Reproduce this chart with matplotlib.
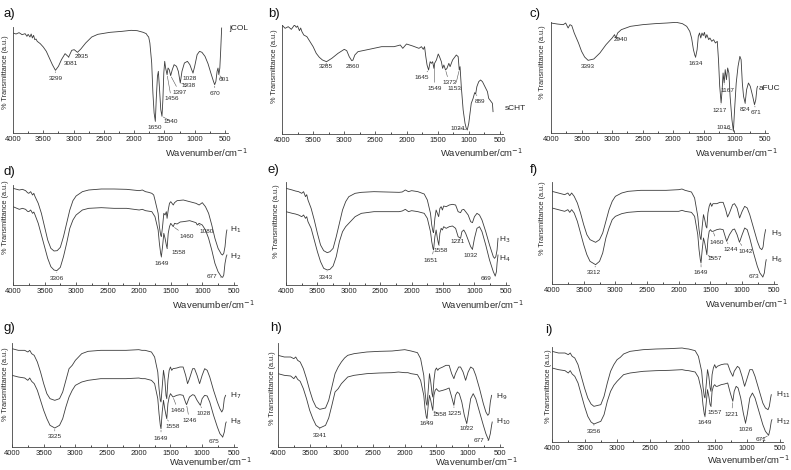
import numpy as np
import matplotlib
matplotlib.use("Agg")
import matplotlib.pyplot as plt

plt.rcParams['font.family'] = ['Liberation Sans', 'DejaVu Sans']

FW, FH = 791, 470

# ---------------- data: (wavenumber cm-1, depth reading below panel top) ----------------
# readings are converted to transmittance (a.u.) with T = base - reading
jcol = [(4000,100),(3950,103),(3900,99),(3850,105),(3800,102),(3770,110),(3750,104),(3720,112),(3700,103),
        (3680,115),(3660,107),(3640,120),(3620,118),(3600,125),(3550,132),(3500,142),(3450,155),(3400,175),
        (3350,195),(3299,212),(3250,200),(3200,180),(3140,162),(3081,172),(3030,152),(2990,150),(2935,158),
        (2880,148),(2800,130),(2700,112),(2600,104),(2400,98),(2200,95),(2050,92),(1950,93),(1850,98),
        (1800,102),(1780,108),(1760,112),(1740,130),(1710,190),(1690,280),(1670,340),(1650,365),(1635,300),
        (1615,230),(1600,215),(1580,270),(1560,330),(1540,350),(1525,300),(1510,220),(1495,185),(1480,205),
        (1456,225),(1440,205),(1420,210),(1397,228),(1370,210),(1340,195),(1300,200),(1270,215),(1238,250),
        (1210,215),(1170,190),(1120,185),(1080,195),(1050,210),(1028,220),(1000,200),(960,165),(920,155),
        (880,158),(830,170),(780,192),(730,222),(690,245),(670,255),(650,245),(630,215),(615,205),(601,225),
        (585,205),(570,150),(555,85)]
scht = [(4000,75),(3950,85),(3900,80),(3850,88),(3800,75),(3770,82),(3750,78),(3720,92),(3700,84),
        (3680,95),(3650,105),(3600,110),(3550,125),(3500,140),(3450,160),(3400,172),(3350,180),(3285,185),
        (3200,175),(3100,160),(3000,148),(2960,152),(2920,170),(2880,182),(2860,180),(2830,165),(2780,155),
        (2600,148),(2400,140),(2200,140),(2100,135),(2060,145),(2000,132),(1900,138),(1800,145),(1760,140),
        (1730,148),(1710,140),(1690,170),(1670,195),(1645,210),(1620,185),(1600,190),(1580,185),(1560,205),
        (1549,190),(1520,180),(1490,162),(1470,170),(1440,185),(1420,205),(1400,195),(1373,210),(1350,205),
        (1320,190),(1300,200),(1260,180),(1200,165),(1170,170),(1153,210),(1140,200),(1120,260),(1090,330),
        (1060,370),(1040,385),(1024,390),(1000,370),(980,340),(960,310),(930,295),(905,278),(889,282),
        (870,260),(840,245),(810,240),(780,245),(740,260),(700,275),(680,295),(660,300),(640,305),(620,310),
        (610,335)]
afuc = [(4000,70),(3900,73),(3800,75),(3760,70),(3720,85),(3690,75),(3660,78),(3620,100),(3550,130),
        (3500,155),(3450,172),(3393,182),(3300,178),(3200,160),(3100,135),(3000,115),(2960,105),(2940,115),
        (2910,100),(2850,90),(2700,80),(2500,75),(2300,72),(2100,70),(1950,68),(1850,72),(1780,80),
        (1730,95),(1700,115),(1670,150),(1645,168),(1634,172),(1610,150),(1590,110),(1570,100),(1550,115),
        (1530,100),(1510,108),(1490,98),(1470,115),(1450,105),(1420,120),(1400,115),(1370,125),(1340,120),
        (1310,130),(1280,125),(1260,180),(1240,260),(1217,310),(1200,270),(1185,220),(1167,250),(1150,210),
        (1130,240),(1110,205),(1090,220),(1070,290),(1040,360),(1016,395),(1000,340),(970,250),(940,200),
        (910,170),(890,180),(870,250),(850,290),(824,310),(800,270),(770,250),(740,260),(700,290),(671,315),
        (650,300),(630,265),(620,260)]
h1 = [(4000,85),(3900,90),(3850,88),(3800,92),(3770,98),(3750,100),(3720,95),(3690,105),(3670,100),(3650,110),
      (3600,130),(3550,160),(3500,200),(3450,240),(3400,265),(3350,273),(3300,272),(3250,262),(3200,230),
      (3150,190),(3100,150),(3050,122),(3000,108),(2900,95),(2800,90),(2600,87),(2400,87),(2200,88),
      (2000,92),(1950,90),(1900,95),(1850,97),(1800,100),(1770,105),(1750,120),(1700,160),(1680,200),
      (1660,225),(1649,230),(1630,200),(1610,160),(1590,165),(1570,155),(1558,175),(1540,150),(1520,130),
      (1500,125),(1480,130),(1460,135),(1440,128),(1400,122),(1300,120),(1200,125),(1100,130),(1050,135),
      (1000,128),(950,140),(900,160),(850,195),(800,235),(750,265),(700,282),(680,285),(660,280),(640,260),
      (620,220),(610,210)]
h2 = [(4000,140),(3900,148),(3850,145),(3800,148),(3770,154),(3750,155),(3720,150),(3690,160),(3670,156),
      (3650,165),(3600,190),(3550,225),(3500,260),(3450,295),(3400,320),(3350,330),(3306,332),(3250,322),
      (3200,290),(3150,250),(3100,205),(3050,180),(3000,165),(2900,150),(2800,145),(2600,143),(2400,145),
      (2200,145),(2000,150),(1950,148),(1900,152),(1800,155),(1750,170),(1700,210),(1680,250),(1660,280),
      (1649,290),(1630,260),(1610,220),(1590,235),(1570,255),(1558,265),(1540,220),(1520,200),(1500,190),
      (1480,195),(1460,200),(1440,190),(1400,192),(1350,186),(1300,185),(1200,182),(1100,188),(1080,195),
      (1050,190),(1000,195),(950,210),(900,235),(850,270),(800,310),(750,335),(700,350),(677,352),(660,345),
      (640,310),(620,290),(610,285)]
h3 = [(4000,85),(3900,90),(3850,93),(3800,95),(3750,100),(3720,95),(3690,110),(3670,104),(3650,120),
      (3600,145),(3550,180),(3500,220),(3450,255),(3400,272),(3343,278),(3300,275),(3250,265),(3200,230),
      (3150,190),(3100,150),(3050,125),(3000,110),(2900,100),(2800,97),(2600,95),(2400,96),(2200,97),
      (2150,96),(2100,90),(2050,95),(2000,92),(1900,95),(1800,102),(1750,120),(1700,160),(1680,195),
      (1660,215),(1651,218),(1630,175),(1610,150),(1590,160),(1570,170),(1550,145),(1530,140),(1510,150),
      (1490,138),(1450,140),(1400,135),(1350,133),(1300,135),(1260,155),(1221,158),(1200,150),(1170,148),
      (1140,155),(1100,165),(1060,185),(1032,188),(1000,170),(960,160),(920,165),(880,180),(820,215),
      (760,255),(700,290),(680,295),(660,290),(640,270),(625,235)]
h4 = [(4000,155),(3900,160),(3850,162),(3800,165),(3750,170),(3720,165),(3690,175),(3670,170),(3650,185),
      (3600,205),(3550,240),(3500,275),(3450,305),(3400,325),(3343,330),(3300,328),(3250,318),(3200,290),
      (3150,245),(3100,215),(3050,200),(3000,190),(2900,170),(2800,160),(2600,155),(2400,155),(2200,155),
      (2150,153),(2100,148),(2050,155),(2000,152),(1900,155),(1800,160),(1750,175),(1700,215),(1680,245),
      (1660,265),(1651,270),(1630,230),(1610,210),(1590,235),(1568,255),(1550,220),(1530,205),(1510,210),
      (1490,200),(1450,205),(1400,200),(1350,198),(1300,205),(1260,230),(1221,235),(1200,215),(1170,210),
      (1140,220),(1100,240),(1060,260),(1032,268),(1000,235),(960,205),(920,200),(880,215),(820,255),
      (760,300),(700,335),(669,348),(650,335),(640,310),(625,285)]
h5 = [(4000,95),(3900,100),(3800,105),(3750,100),(3720,108),(3690,100),(3650,110),(3600,130),(3550,160),
      (3500,195),(3450,225),(3400,240),(3312,248),(3250,240),(3200,220),(3150,185),(3100,150),(3050,125),
      (3000,110),(2900,100),(2800,95),(2600,92),(2400,92),(2200,92),(2000,90),(1950,88),(1900,92),(1800,97),
      (1750,115),(1700,170),(1680,210),(1660,235),(1649,240),(1630,200),(1610,165),(1590,180),(1570,200),
      (1557,205),(1540,160),(1520,140),(1500,130),(1480,140),(1460,132),(1400,132),(1350,128),(1300,128),
      (1260,150),(1230,172),(1200,160),(1150,135),(1120,132),(1080,145),(1040,175),(1000,155),(960,140),
      (920,145),(880,165),(820,205),(760,245),(720,265),(690,270),(670,262),(650,230),(630,210)]
h6 = [(4000,145),(3900,150),(3800,155),(3750,150),(3720,158),(3690,150),(3650,160),(3600,185),(3550,220),
      (3500,255),(3450,285),(3400,305),(3312,315),(3250,305),(3200,280),(3150,235),(3100,205),(3050,180),
      (3000,170),(2900,162),(2800,158),(2600,155),(2400,155),(2200,155),(2000,155),(1950,152),(1900,155),
      (1800,158),(1750,170),(1700,225),(1680,270),(1660,300),(1649,310),(1630,270),(1610,235),(1590,250),
      (1570,270),(1557,285),(1540,240),(1520,215),(1500,210),(1480,215),(1460,215),(1400,210),(1350,208),
      (1300,210),(1260,235),(1244,245),(1200,225),(1150,210),(1120,208),(1080,225),(1042,248),(1000,225),
      (960,205),(920,210),(880,235),(820,280),(760,320),(720,340),(673,352),(650,340),(630,310),(620,300)]
h7 = [(4000,100),(3900,105),(3800,105),(3750,110),(3720,105),(3690,115),(3650,120),(3600,140),(3550,170),
      (3500,205),(3450,235),(3400,250),(3325,255),(3250,250),(3200,230),(3150,195),(3100,160),(3050,150),
      (3000,135),(2950,125),(2900,115),(2800,108),(2600,105),(2400,105),(2200,105),(2000,103),(1950,105),
      (1900,105),(1800,110),(1750,125),(1700,170),(1680,220),(1660,255),(1649,260),(1630,215),(1610,165),
      (1590,190),(1570,240),(1558,250),(1540,195),(1520,165),(1500,155),(1480,165),(1460,160),(1400,158),
      (1350,155),(1300,155),(1260,180),(1230,205),(1200,190),(1150,160),(1120,160),(1080,180),(1040,205),
      (1000,180),(960,160),(920,165),(880,185),(820,225),(760,260),(720,280),(690,290),(670,282),(650,250),
      (630,240)]
h8 = [(4000,180),(3900,185),(3800,188),(3750,195),(3720,188),(3690,198),(3650,205),(3600,225),(3550,255),
      (3500,285),(3450,310),(3400,330),(3325,338),(3250,330),(3200,310),(3150,275),(3100,245),(3050,225),
      (3000,210),(2950,205),(2900,200),(2800,195),(2600,190),(2400,190),(2200,190),(2000,188),(1950,190),
      (1900,190),(1800,195),(1750,205),(1700,250),(1680,295),(1660,330),(1649,340),(1630,290),(1610,255),
      (1590,280),(1570,300),(1558,310),(1540,265),(1520,245),(1500,235),(1480,240),(1460,245),(1400,240),
      (1350,238),(1300,240),(1260,262),(1246,268),(1200,245),(1150,238),(1120,240),(1080,255),(1028,270),
      (1000,250),(960,240),(920,242),(880,260),(820,300),(760,335),(720,355),(675,365),(650,350),(630,325),
      (620,320)]
h9 = [(4000,120),(3900,125),(3800,125),(3750,130),(3720,125),(3690,135),(3650,140),(3600,160),(3550,190),
      (3500,225),(3450,255),(3400,275),(3341,282),(3250,278),(3200,255),(3150,215),(3100,175),(3050,155),
      (3000,140),(2950,128),(2900,120),(2800,115),(2600,110),(2400,108),(2200,107),(2100,105),(2000,103),
      (1950,105),(1900,107),(1800,112),(1750,130),(1700,180),(1680,230),(1660,265),(1649,270),(1630,225),
      (1610,175),(1590,200),(1570,235),(1558,245),(1540,195),(1520,165),(1500,158),(1480,165),(1460,160),
      (1400,155),(1350,150),(1300,150),(1260,175),(1225,190),(1200,175),(1150,155),(1120,155),(1080,170),
      (1040,195),(1000,170),(960,155),(920,160),(880,180),(820,220),(760,265),(720,290),(690,300),(670,295),
      (650,260),(630,240)]
h10 = [(4000,175),(3900,180),(3800,182),(3750,190),(3720,182),(3690,192),(3650,198),(3600,220),(3550,250),
       (3500,285),(3450,310),(3400,330),(3341,338),(3250,330),(3200,308),(3150,270),(3100,230),(3050,220),
       (3000,205),(2950,195),(2900,185),(2800,180),(2600,175),(2400,173),(2200,172),(2100,170),(2000,172),
       (1950,172),(1900,175),(1800,178),(1750,195),(1700,240),(1680,280),(1660,305),(1649,310),(1630,270),
       (1610,240),(1590,255),(1570,275),(1558,285),(1540,240),(1520,225),(1500,220),(1480,225),(1460,228),
       (1400,225),(1350,222),(1300,218),(1260,245),(1225,270),(1200,240),(1170,230),(1140,235),(1100,260),
       (1060,300),(1022,325),(1000,300),(960,250),(920,235),(880,250),(820,290),(760,330),(720,355),
       (677,375),(650,355),(630,330),(620,320)]
h11 = [(4000,110),(3900,115),(3800,115),(3750,120),(3720,115),(3690,125),(3650,130),(3600,150),(3550,185),
       (3500,220),(3450,250),(3400,268),(3356,275),(3250,270),(3200,245),(3150,205),(3100,170),(3050,150),
       (3000,135),(2950,128),(2900,118),(2800,110),(2600,105),(2400,103),(2200,102),(2000,100),(1950,102),
       (1900,103),(1800,108),(1750,125),(1700,170),(1680,215),(1660,245),(1649,250),(1630,210),(1610,165),
       (1590,185),(1570,220),(1557,230),(1540,180),(1520,160),(1500,150),(1480,160),(1460,155),(1400,150),
       (1350,148),(1300,148),(1260,170),(1221,185),(1200,170),(1150,155),(1120,160),(1080,185),(1040,215),
       (1000,190),(960,165),(920,165),(880,185),(820,225),(760,265),(720,280),(680,285),(660,275),(640,250),
       (630,240)]
h12 = [(4000,160),(3900,165),(3800,168),(3750,175),(3720,168),(3690,178),(3650,185),(3600,205),(3550,240),
       (3500,275),(3450,305),(3400,322),(3356,328),(3250,320),(3200,300),(3150,260),(3100,230),(3050,212),
       (3000,200),(2950,190),(2900,180),(2800,175),(2600,170),(2400,168),(2200,167),(2000,165),(1950,167),
       (1900,168),(1800,172),(1750,188),(1700,230),(1680,270),(1660,298),(1649,305),(1630,265),(1610,225),
       (1590,245),(1570,270),(1557,275),(1540,230),(1520,215),(1500,210),(1480,215),(1460,215),(1400,210),
       (1350,208),(1300,205),(1260,235),(1221,260),(1200,230),(1170,215),(1140,220),(1100,250),(1060,295),
       (1026,325),(1000,300),(960,250),(920,235),(880,250),(820,290),(760,330),(720,350),(671,362),(650,345),
       (630,320),(620,315)]

# peak labels: (text, text_wn, text_T, peak_wn, peak_T)
a_peaks = [("3299",3300,163,3299,188),("3081",3040,208,3081,228),("2935",2870,228,2935,242),
           ("1650",1660,17,1650,35),("1540",1390,35,1540,50),("1456",1385,102,1456,175),
           ("1397",1250,122,1397,172),("1238",1100,142,1238,150),("1028",1080,164,1028,180),
           ("670",665,118,670,145),("601",520,160,601,175)]
b_peaks = [("3285",3300,202,3285,217),("2860",2860,202,2860,220),("1645",1750,169,1645,192),
           ("1549",1546,137,1549,212),("1373",1315,154,1373,192),("1153",1224,137,1153,192),
           ("889",822,97,889,122),("1024",1181,17,1024,12)]
c_peaks = [("3393",3400,200,3393,218),("2940",2850,280,2940,288),("1634",1634,208,1634,228),
           ("1217",1240,68,1217,90),("1167",1120,128,1167,150),("1016",1180,17,1016,8),
           ("824",820,70,824,90),("671",640,60,671,85)]
d_peaks = [("3306",3306,20,3306,43),("1649",1649,65,1649,85),("1558",1380,97,1558,110),
           ("1460",1250,147,1460,175),("1080",930,160,1080,185),("677",850,25,677,23)]
e_peaks = [("3343",3370,23,3343,45),("1651",1688,75,1651,105),("1558",1545,103,1558,120),
           ("1221",1264,130,1221,140),("1032",1068,88,1032,107),("669",813,20,669,27)]
f_peaks = [("3312",3342,33,3312,58),("1649",1647,33,1649,63),("1557",1432,75,1557,88),
           ("1460",1395,126,1460,158),("1244",1174,103,1244,128),("1042",937,98,1042,125),
           ("673",816,23,673,21)]
g_peaks = [("3325",3325,30,3325,57),("1649",1649,27,1649,55),("1558",1470,60,1558,85),
           ("1460",1380,110,1460,150),("1246",1200,80,1246,127),("1028",970,100,1028,125),
           ("675",810,17,675,30)]
h_peaks = [("3341",3341,35,3341,57),("1649",1649,70,1649,85),("1558",1450,97,1558,110),
           ("1225",1220,100,1225,125),("1022",1022,55,1022,70),("677",830,20,677,20)]
i_peaks = [("3356",3356,32,3356,54),("1649",1649,57,1649,77),("1557",1500,90,1557,107),
           ("1221",1240,84,1221,122),("1026",1026,37,1026,57),("671",790,7,671,20)]

tick_vals = [4000, 3500, 3000, 2500, 2000, 1500, 1000, 500]
tick_labels = ["4000", "3500", "3000", "2500", "2000", "1500", "1000", "500"]

# ---------------- layout (pixel boxes) ----------------
panels = [
    # letter, rect(left, top, width, bottom), base, series[(data, name, name_wn, name_T)], peaks, letter pos, ylabel pos, xlabel pos
    ("a)", (13, 27, 215, 133), 400, [(jcol, "jCOL", 430, 315)], a_peaks, (3, 14), (6, 72), (248, 153)),
    ("b)", (282, 25, 221, 134), 402, [(scht, "sCHT", 420, 77)], b_peaks, (268, 14), (275, 66), (523, 153)),
    ("c)", (551, 22, 217, 133), 400, [(afuc, "aFUC", 610, 135)], c_peaks, (529, 14), (542, 62), (778, 153)),
    ("d)", (13, 185, 224, 285), 375, [(h1, "H$_1$", 568, 165), (h2, "H$_2$", 568, 85)], d_peaks, (3, 172), (6, 217), (255, 305)),
    ("e)", (286, 182, 223, 285), 375, [(h3, "H$_3$", 617, 135), (h4, "H$_4$", 617, 80)], e_peaks, (268, 170), (277, 221), (524, 305)),
    ("f)", (552, 182, 225, 284), 373, [(h5, "H$_5$", 542, 150), (h6, "H$_6$", 542, 72)], f_peaks, (530, 170), (543, 218), (788, 304)),
    ("g)", (12, 343, 225, 447), 395, [(h7, "H$_7$", 560, 155), (h8, "H$_8$", 560, 75)], g_peaks, (3, 328), (6, 384), (252, 462)),
    ("h)", (278, 343, 225, 447), 395, [(h9, "H$_9$", 560, 150), (h10, "H$_{10}$", 560, 75)], h_peaks, (270, 328), (273, 388), (518, 462)),
    ("i)", (552, 347, 231, 442), 382, [(h11, "H$_{11}$", 560, 142), (h12, "H$_{12}$", 560, 62)], i_peaks, (545, 330), (548, 386), (790, 460)),
]

LINE = "#3c3c3c"
TXT = "#2a2a2a"

fig = plt.figure(figsize=(FW / 100, FH / 100), dpi=100)

def fx(px):
    return px / FW

def fy(py):
    return 1 - py / FH

for letter, (L, T, Wd, Bt), base, series, peaks, lpos, ypos, xpos in panels:
    ax = fig.add_axes([fx(L), fy(Bt), Wd / FW, (Bt - T) / FH])
    for data, name, nwn, nt in series:
        wn = np.array([p[0] for p in data], dtype=float)
        tr = base - np.array([p[1] for p in data], dtype=float)
        ax.plot(wn, tr, color=LINE, lw=0.6)
        ax.text(nwn, nt, name, fontsize=6, color=TXT, ha="left", va="center", clip_on=False)
    for txt, tx, ty, px, py in peaks:
        ax.annotate(txt, xy=(px, py), xytext=(tx, ty), fontsize=4.6, color=TXT,
                    ha="center", va="center", annotation_clip=False,
                    arrowprops=dict(arrowstyle="-", lw=0.4, color="#555555",
                                    shrinkA=0.5, shrinkB=1.0))
    ax.set_xlim(4000, 450)
    ax.set_ylim(0, 3 * (Bt - T))
    ax.set_xticks(tick_vals)
    ax.set_xticklabels(tick_labels)
    ax.set_xticks([3750, 3250, 2750, 2250, 1750, 1250, 750], minor=True)
    ax.tick_params(axis="x", which="major", direction="in", length=2, width=0.5,
                   labelsize=5.5, pad=2, colors="#222222")
    ax.tick_params(axis="x", which="minor", direction="in", length=1.5, width=0.5)
    ax.set_yticks([])
    for s in ("top", "right"):
        ax.spines[s].set_visible(False)
    for s in ("left", "bottom"):
        ax.spines[s].set_linewidth(0.6)
        ax.spines[s].set_color("#444444")
    ax.patch.set_alpha(0)
    fig.text(fx(lpos[0]), fy(lpos[1]), letter, fontsize=9.5, ha="left", va="center", color="#111111")
    fig.text(fx(ypos[0]), fy(ypos[1]), "% Transmittance (a.u.)", fontsize=5.3, rotation=90,
             ha="center", va="center", color=TXT)
    fig.text(fx(xpos[0]), fy(xpos[1]), "Wavenumber/cm$^{-1}$", fontsize=6.8, ha="right",
             va="center", color=TXT)

fig.savefig("out.png", dpi=100)
